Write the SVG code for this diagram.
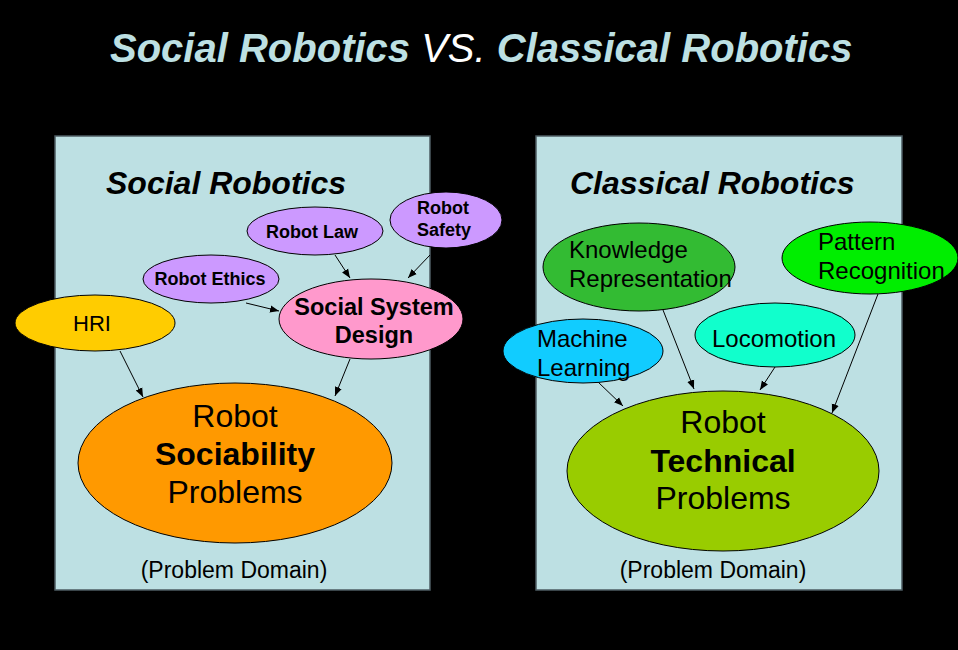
<svg xmlns="http://www.w3.org/2000/svg" width="958" height="650" viewBox="0 0 958 650">
<defs>
<marker id="ah" viewBox="0 0 10 10" refX="10" refY="5" markerWidth="9" markerHeight="9" markerUnits="userSpaceOnUse" orient="auto">
<path d="M0,1 L10,5 L0,9 Z" fill="#000"/>
</marker>
<style>
text{font-family:"Liberation Sans",Arial,sans-serif;fill:#000}
.panel{fill:#bde0e3;stroke:#4d5c63;stroke-width:1.5}
.node{stroke:#000;stroke-width:1}
.b{font-weight:bold}
.s18{font-size:18px;font-weight:bold}
.s24{font-size:24px}
.s32{font-size:32px}
.conn line{stroke:#000;stroke-width:1;marker-end:url(#ah)}
</style>
</defs>
<rect width="958" height="650" fill="#000"/>
<text x="110" y="62" font-size="40" font-style="italic"><tspan fill="#bde0e3" font-weight="bold">Social Robotics</tspan><tspan fill="#ffffff"> VS. </tspan><tspan fill="#bde0e3" font-weight="bold">Classical Robotics</tspan></text>

<g id="panel-social">
<rect class="panel" x="55" y="136" width="375" height="454"/>
<text x="106" y="194" font-size="32" font-weight="bold" font-style="italic">Social Robotics</text>
<text x="234" y="578" font-size="23" text-anchor="middle">(Problem Domain)</text>
</g>
<g id="panel-classical">
<rect class="panel" x="536" y="136" width="366" height="454"/>
<text x="570" y="194" font-size="32" font-weight="bold" font-style="italic">Classical Robotics</text>
<text x="713" y="578" font-size="23" text-anchor="middle">(Problem Domain)</text>
</g>

<g id="connectors" class="conn">
<line x1="335" y1="255" x2="350" y2="278"/>
<line x1="430" y1="255" x2="408" y2="278"/>
<line x1="246" y1="303" x2="279" y2="311"/>
<line x1="120" y1="351" x2="143" y2="397"/>
<line x1="350" y1="359" x2="335" y2="396"/>
<line x1="663" y1="310" x2="694" y2="389"/>
<line x1="775" y1="367" x2="760" y2="390"/>
<line x1="878" y1="294" x2="832" y2="413"/>
<line x1="598" y1="382" x2="623" y2="406"/>
</g>

<g id="robot-law">
<ellipse class="node" cx="315" cy="231" rx="68" ry="24" fill="#cc99ff"/>
<text class="s18" x="312" y="238" text-anchor="middle">Robot Law</text>
</g>
<g id="robot-safety">
<ellipse class="node" cx="446" cy="220" rx="56" ry="28" fill="#cc99ff"/>
<text class="s18" x="417" y="214">Robot</text>
<text class="s18" x="417" y="236">Safety</text>
</g>
<g id="robot-ethics">
<ellipse class="node" cx="211" cy="279" rx="68" ry="24" fill="#cc99ff"/>
<text class="s18" x="210" y="285" text-anchor="middle">Robot Ethics</text>
</g>
<g id="hri">
<ellipse class="node" cx="95" cy="323" rx="80" ry="28" fill="#ffcc00"/>
<text x="92" y="331" font-size="22" text-anchor="middle">HRI</text>
</g>
<g id="social-system-design">
<ellipse class="node" cx="371" cy="319" rx="92" ry="40" fill="#ff99cc"/>
<text x="374" y="315" font-size="23.5" font-weight="bold" text-anchor="middle">Social System</text>
<text x="374" y="343" font-size="23.5" font-weight="bold" text-anchor="middle">Design</text>
</g>
<g id="robot-sociability">
<ellipse class="node" cx="235" cy="463" rx="157" ry="80" fill="#ff9900"/>
<text class="s32" x="235" y="427" text-anchor="middle">Robot</text>
<text class="s32 b" x="235" y="465" text-anchor="middle">Sociability</text>
<text class="s32" x="235" y="503" text-anchor="middle">Problems</text>
</g>

<g id="knowledge-representation">
<ellipse class="node" cx="639" cy="267" rx="96" ry="44" fill="#33bb33"/>
<text class="s24" x="569" y="258">Knowledge</text>
<text class="s24" x="569" y="287">Representation</text>
</g>
<g id="pattern-recognition">
<ellipse class="node" cx="870" cy="258" rx="88" ry="36" fill="#00ee00"/>
<text class="s24" x="818" y="250">Pattern</text>
<text class="s24" x="818" y="279">Recognition</text>
</g>
<g id="machine-learning">
<ellipse class="node" cx="583" cy="351" rx="80" ry="32" fill="#11ccff"/>
<text class="s24" x="537" y="347">Machine</text>
<text class="s24" x="537" y="376">Learning</text>
</g>
<g id="locomotion">
<ellipse class="node" cx="775" cy="335" rx="80" ry="32" fill="#11ffcc"/>
<text class="s24" x="774" y="347" text-anchor="middle">Locomotion</text>
</g>
<g id="robot-technical">
<ellipse class="node" cx="723" cy="471" rx="156" ry="80" fill="#99cc00"/>
<text class="s32" x="723" y="433" text-anchor="middle">Robot</text>
<text class="s32 b" x="723" y="472" text-anchor="middle">Technical</text>
<text class="s32" x="723" y="509" text-anchor="middle">Problems</text>
</g>
</svg>
